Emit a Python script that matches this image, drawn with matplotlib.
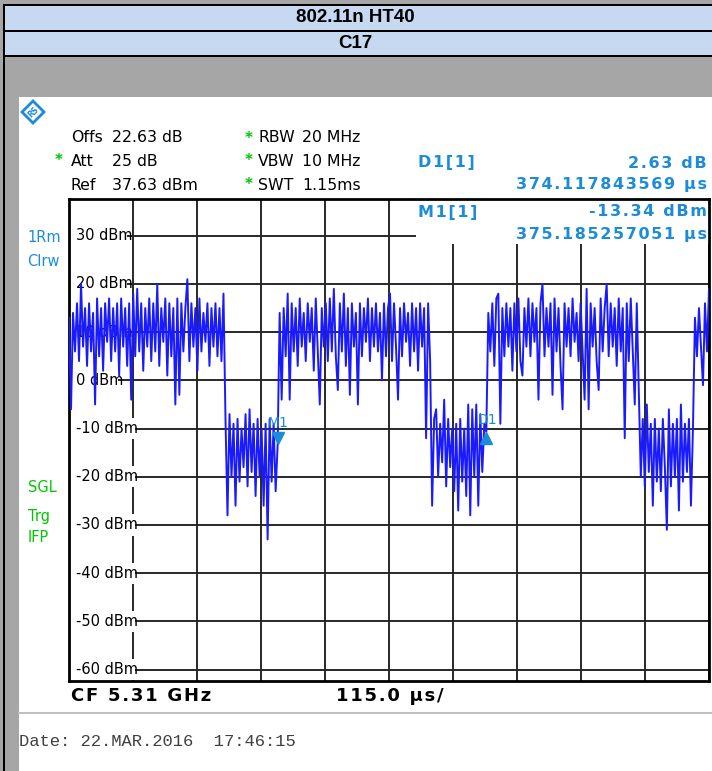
import matplotlib
matplotlib.use("Agg")
import matplotlib.pyplot as plt
import numpy as np
from matplotlib.patches import Rectangle, Polygon
from matplotlib.lines import Line2D
from matplotlib.transforms import offset_copy

W, H = 712, 771
BLUE_TXT = '#1C8CD8'
GREEN = '#00C800'
TRACE = '#1A1AFF'

# sweep settings
sweep_us = 1150.0
ref_dbm = 37.63
range_db = 100.0
ylabels = [30, 20, 10, 0, -10, -20, -30, -40, -50, -60]

# trace levels (dBm), one value per ~2 px
level_dbm = [
    # burst 1
    13, -6, 14, 6, 16, 4, 20, 7, 15, 3, 16, 6, 14, -5, 17, 5, 15, 2, 16, 8,
    17, 4, 15, 6, 16, 1, 17, 7, 15, 3, 16, -4, 18, 5, 19, 6, 16, 2, 15, 7,
    17, 4, 16, 6, 20, 3, 15, 8, 17, 1, 16, 5, 15, -5, 17, -3, 16, 6, 15, 21,
    4, 16, 7, 15, 2, 17, 6, 14, 8, 16, 3, 15, 7, 16, 5, 15, 4, 18,
    # gap 1
    -8, -28, -7, -20, -9, -26, -8, -21, -10, -18, -7, -22, -6, -19, -9, -24,
    -8, -20, -10, -26, -9, -33, -8, -21, -9, -23, -13.3,
    # burst 2
    14, -4, 15, 5, 18, -4, 16, 6, 15, 3, 17, 7, 14, 4, 16, 8, 15, 2, 17, 6,
    -5, 15, 7, 16, 4, 17, 6, 19, 5, -2, 16, 6, 18, 3, 15, -3, 16, 7, 14, -5,
    16, 5, 15, 8, 17, 4, 15, 7, 16, 6, 14, 0, 16, 5, 15, 18, 4, 16, 7, -4,
    15, 5, 16, 8, 14, 3, 16, 6, 15, 2, 16, 7, 15, -12, 16, 4,
    # gap 2
    -26, -8, -6, -20, -9, -17, -4, -22, -8, -18, -10, -23, -9, -27, -8, -21,
    -10, -24, -5, -28, -6, -20, -5, -26, -7, -19, -9, -10.7,
    # burst 3
    14, 6, 16, 3, 17, 18, -9, 15, 5, 16, 7, 15, 2, 16, 6, 17, 4, 1, 15, 7,
    17, 5, 16, 8, 15, -4, 16, 20, 5, 15, 7, 16, -3, 17, 6, 15, 3, -6, 16, 7,
    15, 5, 17, 8, 14, 4, 16, 6, -4, 19, -6, 16, 7, 15, 4, -2, 17, 6, 15, 20,
    5, 16, 7, 15, 3, 17, 6, 15, -12, 16, 4, 17, 6, -5, 16, -2,
    # gap 3
    -20, -8, -22, -5, -19, -9, -26, -8, -21, -10, -23, -8, -18, -31, -6, -22,
    -9, -20, -8, -27, -5, -21, -9, -19, -8, -26, -10,
    # burst 4
    13, 5, 15, 7, -1, 16, 6, 19,
]

# marker table
m1_us, m1_dbm = 375.185257051, -13.34
d1_dus, d1_ddb = 374.117843569, 2.63
d1_us, d1_dbm = m1_us + d1_dus, m1_dbm + d1_ddb


def fx(px):
    return px / W


def fy(py):
    return 1 - py / H


def spaced(s):
    # the analyzer font is tracked out a little
    return '\u200a'.join(s)


def rect(fig, x0, y0, x1, y1, color, z=0):
    fig.add_artist(Rectangle((fx(x0), fy(y1)), fx(x1 - x0), (y1 - y0) / H,
                             transform=fig.transFigure, facecolor=color,
                             edgecolor='none', zorder=z))


fig = plt.figure(figsize=(W / 100, H / 100), dpi=100, facecolor='#A6A6A6')

# frame / title bands
rect(fig, 4, 4, W, 6, 'black')
rect(fig, 5, 6, W, 30, '#C6D9F1')
rect(fig, 4, 30, W, 32, 'black')
rect(fig, 5, 32, W, 55, '#C6D9F1')
rect(fig, 4, 55, W, 57, 'black')
rect(fig, 3, 4, 5, H, 'black')
rect(fig, 19, 97, W, H, 'white')

title_font = dict(family=['Liberation Sans Narrow', 'Liberation Sans'],
                  weight='bold', fontsize=13.5)
fig.text(fx(355), fy(18), '802.11n HT40', ha='center', va='center', **title_font)
fig.text(fx(355), fy(43), 'C17', ha='center', va='center', **title_font)

# R&S logo
cx, cy, r = 33, 112, 11
fig.add_artist(Polygon([(fx(cx), fy(cy - r)), (fx(cx + r), fy(cy)),
                        (fx(cx), fy(cy + r)), (fx(cx - r), fy(cy))],
                       closed=True, transform=fig.transFigure,
                       facecolor='white', edgecolor=BLUE_TXT, lw=2))
fig.text(fx(cx), fy(cy), 'RS', ha='center', va='center', fontsize=5.5,
         color=BLUE_TXT, rotation=45, weight='bold')

# setting header
hdr = dict(fontsize=11.3, va='center', color='black')
rows = [('Offs', '22.63 dB', False, 'RBW', '20 MHz'),
        ('Att', '25 dB', True, 'VBW', '10 MHz'),
        ('Ref', '37.63 dBm', False, 'SWT', '1.15ms')]
for (name, val, star, name2, val2), y in zip(rows, [138, 161, 185]):
    fig.text(fx(71), fy(y), name, **hdr)
    fig.text(fx(112), fy(y), val, **hdr)
    if star:
        fig.text(fx(55), fy(y), '*', fontsize=11, va='center', color=GREEN, weight='bold')
    fig.text(fx(245), fy(y), '*', fontsize=11, va='center', color=GREEN, weight='bold')
    fig.text(fx(258), fy(y), name2, **hdr)
    fig.text(fx(302), fy(y), val2, **hdr)

# marker table
mk = dict(fontsize=11.5, va='center', color=BLUE_TXT, weight='bold')
fig.text(fx(418), fy(163), spaced('D1[1]'), **mk)
fig.text(fx(707), fy(163), spaced(f'{d1_ddb:.2f} dB'), ha='right', **mk)
fig.text(fx(707), fy(185), spaced(f'{d1_dus:.9f} µs'), ha='right', **mk)
fig.text(fx(418), fy(212), spaced('M1[1]'), **mk)
fig.text(fx(707), fy(212), spaced(f'{m1_dbm:.2f} dBm'), ha='right', **mk)
fig.text(fx(707), fy(234), spaced(f'{m1_us:.9f} µs'), ha='right', **mk)

# side labels
side = dict(fontsize=10.5, va='center')
fig.text(fx(27), fy(238), '1Rm', color=BLUE_TXT, **side)
fig.text(fx(27), fy(261), 'Clrw', color=BLUE_TXT, **side)
fig.text(fx(28), fy(488), 'SGL', color=GREEN, **side)
fig.text(fx(28), fy(516), 'Trg', color=GREEN, **side)
fig.text(fx(28), fy(538), 'IFP', color=GREEN, **side)

# trace window
ax = fig.add_axes([fx(69), fy(681), fx(709) - fx(69), (681 - 199) / H])
ax.set_facecolor('white')
ax.set_xlim(0, sweep_us)
ax.set_ylim(ref_dbm - range_db, ref_dbm)
ax.set_xticks(np.arange(0, sweep_us + 1, sweep_us / 10))
ax.set_yticks(ylabels)
ax.tick_params(length=0, labelbottom=False, labelleft=False)
ax.set_axisbelow(True)
ax.grid(True, color='#282828', lw=1.4)
for s in ax.spines.values():
    s.set_linewidth(2)
    s.set_color('black')

# level labels sit on the grid with a white backing
for v in ylabels:
    ax.add_patch(Rectangle((0, v - 2.2), 0.003 + (len(f'{v} dBm') * 8.6 + 4) / 640, 4.4,
                           transform=ax.get_yaxis_transform(), facecolor='white',
                           edgecolor='none', zorder=1.5))
    ax.text(0.011, v, f'{v} dBm', transform=ax.get_yaxis_transform(),
            fontsize=10.5, va='center', ha='left', zorder=2)

# white box behind the marker table
ax.add_patch(Rectangle(((416 - 69) / 640, 1 - 45 / 482), 1, 1,
                       transform=ax.transAxes, facecolor='white',
                       edgecolor='none', zorder=2))

t_us = np.linspace(0, sweep_us, len(level_dbm))
ax.plot(t_us, level_dbm, color=TRACE, lw=1.4, zorder=3)

# markers
down = offset_copy(ax.transData, fig=fig, y=4.5, units='points')
up = offset_copy(ax.transData, fig=fig, y=-4.5, units='points')
ax.plot([m1_us], [m1_dbm], marker='v', ms=9, color=BLUE_TXT, transform=down, zorder=4)
ax.plot([d1_us], [d1_dbm], marker='^', ms=9, color=BLUE_TXT, transform=up, zorder=4)
ax.annotate('M1', (m1_us, m1_dbm), xytext=(0, 15.5), textcoords='offset points',
            ha='center', va='center', fontsize=10, color=BLUE_TXT, zorder=4)
ax.annotate('D1', (d1_us, d1_dbm), xytext=(1, 8.5), textcoords='offset points',
            ha='center', va='center', fontsize=10, color=BLUE_TXT, zorder=4)

# footer
fig.text(fx(71), fy(696), spaced('CF 5.31 GHz'), fontsize=13, weight='bold', va='center')
fig.text(fx(336), fy(696), spaced(f'{sweep_us / 10:.1f} µs/'), fontsize=13, weight='bold', va='center')
fig.add_artist(Line2D([fx(19), 1], [fy(713), fy(713)], transform=fig.transFigure,
                      color='#C0C0C0', lw=1.5))
fig.text(fx(19), fy(741), 'Date: 22.MAR.2016  17:46:15', family='Liberation Mono',
         fontsize=12.3, va='center', color='#404040')

fig.savefig('out.png', dpi=100, facecolor=fig.get_facecolor())
